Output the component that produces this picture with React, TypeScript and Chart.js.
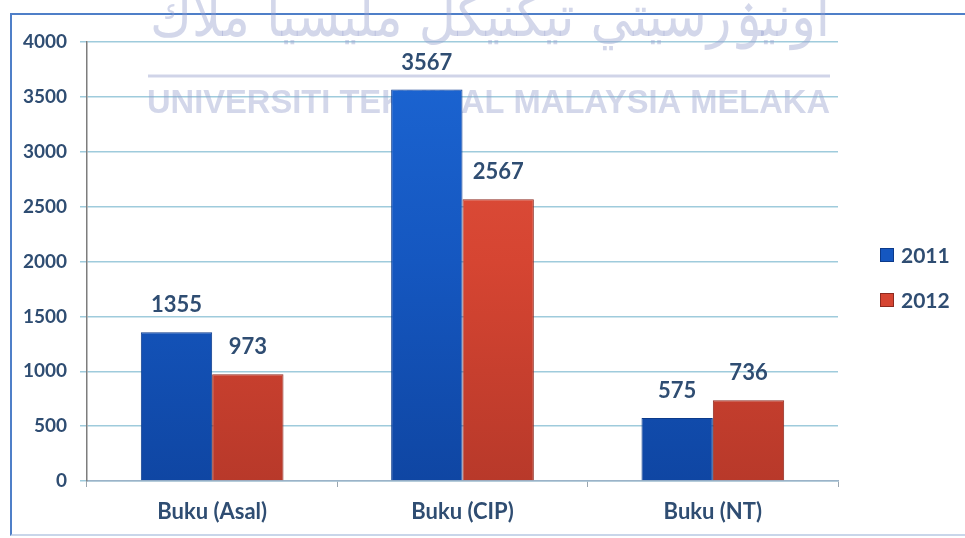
import React, { useEffect, useRef } from "react";
import { Chart, registerables } from "chart.js";

Chart.register(...registerables);

const categories = ["Buku (Asal)", "Buku (CIP)", "Buku (NT)"];
const series2011 = [1355, 3567, 575];
const series2012 = [973, 2567, 736];
const seriesLabels = ["2011", "2012"];
const yTicks = [0, 500, 1000, 1500, 2000, 2500, 3000, 3500, 4000];
const watermarkLatin = "UNIVERSITI TEKNIKAL MALAYSIA MELAKA";
const watermarkJawi = "اونيۏرسيتي تيكنيكل مليسيا ملاك";

const TEXT = "#2f4d72";
const FONT = "Lato, 'Open Sans', sans-serif";

const watermarkPlugin = {
  id: "watermark",
  beforeDatasetsDraw(chart: any) {
    const ctx = chart.ctx;
    ctx.save();
    ctx.fillStyle = "rgba(150,160,205,0.42)";
    ctx.strokeStyle = "rgba(150,160,205,0.45)";
    // Jawi line
    ctx.font = "58px 'DejaVu Sans', sans-serif";
    ctx.textBaseline = "alphabetic";
    const jw = ctx.measureText(watermarkJawi).width;
    ctx.save();
    ctx.translate(150, 36);
    ctx.scale(680 / jw, 1);
    ctx.direction = "rtl";
    ctx.textAlign = "right";
    ctx.fillText(watermarkJawi, jw, 0);
    ctx.restore();
    // rule
    ctx.lineWidth = 3;
    ctx.beginPath();
    ctx.moveTo(148, 76);
    ctx.lineTo(830, 76);
    ctx.stroke();
    // Latin line
    ctx.font = "bold 34px 'Liberation Sans', Arial, sans-serif";
    const lw = ctx.measureText(watermarkLatin).width;
    ctx.save();
    ctx.translate(147, 113);
    ctx.scale(683 / lw, 1);
    ctx.textAlign = "left";
    ctx.fillText(watermarkLatin, 0, 0);
    ctx.restore();
    ctx.restore();
  },
};

const labelPlugin = {
  id: "barLabels",
  afterDatasetsDraw(chart: any) {
    const ctx = chart.ctx;
    ctx.save();
    ctx.font = `bold 22px ${FONT}`;
    ctx.fillStyle = TEXT;
    ctx.textAlign = "center";
    ctx.textBaseline = "middle";
    chart.data.datasets.forEach((ds: any, i: number) => {
      const meta = chart.getDatasetMeta(i);
      meta.data.forEach((bar: any, j: number) => {
        ctx.fillText(String(ds.data[j]), bar.x, bar.y - 27);
      });
    });
    ctx.restore();
  },
};

const legendPlugin = {
  id: "sideLegend",
  afterDraw(chart: any) {
    const ctx = chart.ctx;
    ctx.save();
    ctx.font = `bold 21px ${FONT}`;
    ctx.textBaseline = "middle";
    ctx.textAlign = "left";
    chart.data.datasets.forEach((ds: any, i: number) => {
      const y = 255 + i * 45;
      ctx.fillStyle = ds.borderColor;
      ctx.fillRect(880, y - 7, 14, 14);
      ctx.fillStyle = ds.legendFill;
      ctx.fillRect(881, y - 6, 12, 12);
      ctx.fillStyle = TEXT;
      ctx.fillText(ds.label, 901, y + 1);
    });
    ctx.restore();
  },
};

function makeGradient(chart: any, light: string, mid: string, dark: string) {
  const { ctx, chartArea } = chart;
  if (!chartArea) return mid;
  const g = ctx.createLinearGradient(0, chartArea.top, 0, chartArea.bottom);
  g.addColorStop(0, light);
  g.addColorStop(0.5, mid);
  g.addColorStop(1, dark);
  return g;
}

export default function App() {
  const ref = useRef<HTMLCanvasElement>(null);
  useEffect(() => {
    if (!ref.current) return;
    const chart = new Chart(ref.current, {
      type: "bar",
      data: {
        labels: categories,
        datasets: [
          {
            label: seriesLabels[0],
            data: series2011,
            backgroundColor: (c: any) => makeGradient(c.chart, "#1c66d4", "#1557c0", "#0f46a3"),
            borderColor: "#0c3a8a",
            borderWidth: 1,
            legendFill: "#1557c0",
          } as any,
          {
            label: seriesLabels[1],
            data: series2012,
            backgroundColor: (c: any) => makeGradient(c.chart, "#e2533f", "#d64532", "#b8392a"),
            borderColor: "#8e2a20",
            borderWidth: 1,
            legendFill: "#d64532",
          } as any,
        ],
      },
      options: {
        animation: false,
        responsive: false,
        maintainAspectRatio: false,
        layout: { padding: { top: 42, right: 127, left: 0, bottom: 0 } },
        datasets: { bar: { categoryPercentage: 0.57, barPercentage: 1 } },
        plugins: { legend: { display: false }, tooltip: { enabled: false } },
        scales: {
          x: {
            grid: { offset: true, drawOnChartArea: false, tickLength: 6, color: "#9aa6b0" },
            border: { color: "#9bb3c8", width: 1.5 },
            ticks: { color: TEXT, font: { family: FONT, size: 22, weight: "bold" }, padding: 12 },
            afterFit: (s: any) => { s.height = 57; },
          },
          y: {
            min: 0,
            max: 4000,
            afterBuildTicks: (s: any) => { s.ticks = yTicks.map((v) => ({ value: v })); },
            grid: { color: "#9fcbdc", lineWidth: 1.5, tickLength: 7 },
            border: { color: "#7d7d7d", width: 1.5 },
            ticks: {
              color: TEXT,
              font: { family: FONT, size: 19, weight: "bold" },
              padding: 13,
              callback: (v: any) => String(v),
            },
            afterFit: (s: any) => { s.width = 87; },
          },
        },
      } as any,
      plugins: [watermarkPlugin, labelPlugin, legendPlugin],
    });
    return () => chart.destroy();
  }, []);
  return (
    <div style={{ position: "fixed", left: 0, top: 0, width: 965, height: 538, background: "#fff" }}>
      <div
        style={{
          position: "absolute",
          left: 10,
          top: 13,
          width: 960,
          height: 523,
          borderTop: "2px solid #4f7fc8",
          borderLeft: "2px solid #4f7fc8",
          borderBottom: "2px solid #c9d6ea",
          boxSizing: "border-box",
        }}
      />
      <canvas ref={ref} width={965} height={538} style={{ position: "absolute", left: 0, top: 0 }} />
    </div>
  );
}
